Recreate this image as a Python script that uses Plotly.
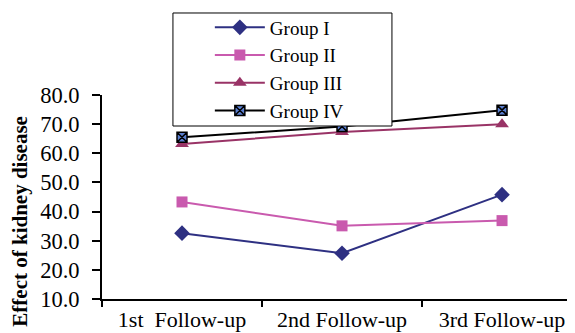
import plotly.graph_objects as go

categories = ["1st  Follow-up", "2nd Follow-up", "3rd Follow-up"]
group1 = [32.6, 25.7, 45.8]
group2 = [43.3, 35.1, 36.9]
group3 = [63.2, 67.3, 70.0]
group4 = [65.5, 69.2, 74.8]
y_ticks = [10, 20, 30, 40, 50, 60, 70, 80]
y_title = "Effect of kidney disease"

FONT = "Liberation Serif, Times New Roman, serif"

fig = go.Figure()
fig.add_trace(go.Scatter(x=categories, y=group1, name="Group I", mode="lines+markers",
                         line=dict(color="#2E3082", width=2),
                         marker=dict(symbol="diamond", size=12, color="#2E3082")))
fig.add_trace(go.Scatter(x=categories, y=group2, name="Group II", mode="lines+markers",
                         line=dict(color="#C95AAE", width=2),
                         marker=dict(symbol="square", size=11, color="#C95AAE")))
fig.add_trace(go.Scatter(x=categories, y=group3, name="Group III", mode="lines+markers",
                         line=dict(color="#993366", width=2),
                         marker=dict(symbol="triangle-up", size=12, color="#993366")))
fig.add_trace(go.Scatter(x=categories, y=group4, name="Group IV", mode="lines+markers",
                         line=dict(color="#000000", width=2),
                         marker=dict(symbol="square-x", size=10, color="#5B7FD0",
                                     line=dict(color="#000000", width=1.5))))

# page has an 8px body margin; figure is sized/margined to compensate
fig.update_layout(
    width=567, height=325,
    margin=dict(l=94, r=0, t=87, b=34, autoexpand=False),
    paper_bgcolor="white", plot_bgcolor="white",
    font=dict(family=FONT, size=22, color="black"),
    showlegend=True,
    legend=dict(x=0.228, y=1.424, xanchor="left", yanchor="top",
                borderwidth=0, bgcolor="rgba(0,0,0,0)",
                font=dict(family=FONT, size=19), itemwidth=50,
                tracegroupgap=0),
    shapes=[dict(type="rect", xref="paper", yref="paper",
                 x0=0.150, x1=0.613, y0=0.848, y1=1.402,
                 line=dict(color="black", width=1), fillcolor="white",
                 layer="above")],
    annotations=[dict(text="<b>" + y_title + "</b>", textangle=-90,
                      xref="paper", yref="paper", x=-0.173, y=0.38,
                      xanchor="center", yanchor="middle", showarrow=False,
                      font=dict(family=FONT, size=21, color="black"))],
)
fig.update_xaxes(range=[-0.5, 2.456], showline=True, linecolor="black", linewidth=2,
                 ticks="outside", tickson="boundaries", ticklen=6, tickwidth=1.5,
                 tickcolor="black", showgrid=False, zeroline=False,
                 tickfont=dict(family=FONT, size=22), automargin=False)
fig.update_yaxes(range=[10, 80], tickvals=y_ticks, tickformat=".1f",
                 showline=True, linecolor="black", linewidth=2,
                 ticks="outside", ticklen=8, tickwidth=1.5, tickcolor="black",
                 showgrid=False, zeroline=False, ticklabelstandoff=8,
                 tickfont=dict(family=FONT, size=22.5), automargin=False)

fig.write_html("out.html")
